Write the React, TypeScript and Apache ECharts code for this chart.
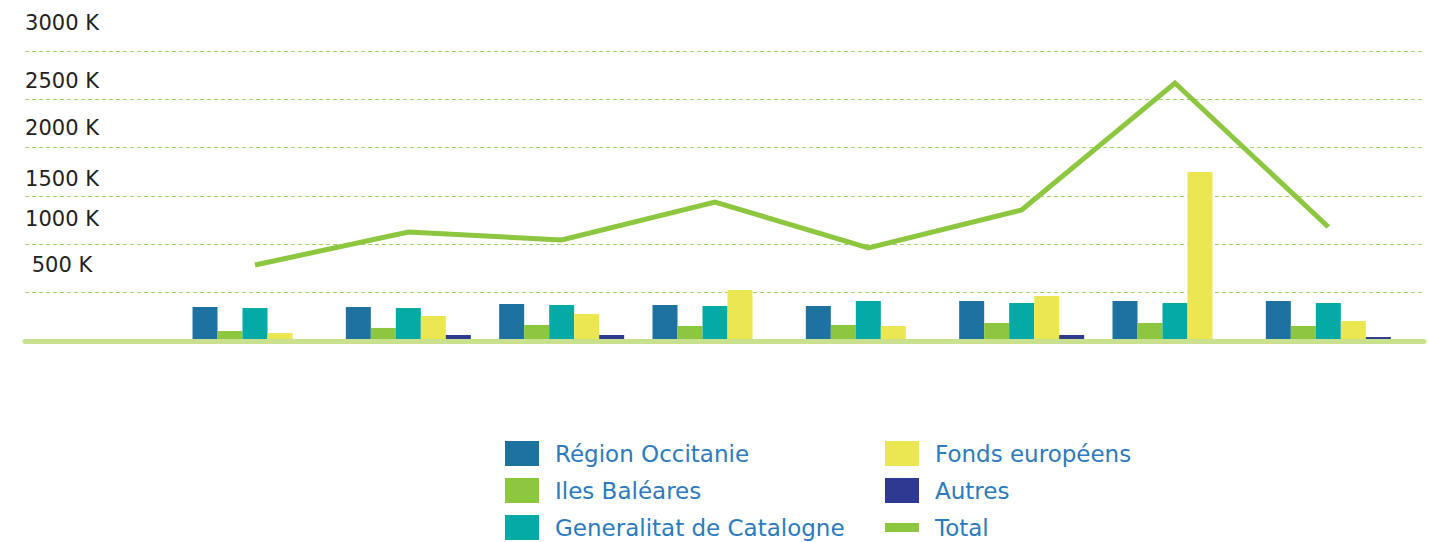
import React, { useEffect, useRef } from "react";
import * as echarts from "echarts";

// ---- data ----
const categories = ["", "P1", "P2", "P3", "P4", "P5", "P6", "P7", "P8"];
const regionOccitanie = [null, 352, 352, 383, 373, 362, 414, 414, 414];
const ilesBaleares = [null, 103, 135, 166, 155, 166, 186, 186, 155];
const generalitat = [null, 341, 341, 373, 362, 414, 393, 393, 393];
const fondsEuropeens = [null, 83, 259, 280, 528, 155, 466, 1748, 207];
const autres = [null, 0, 62, 62, 0, 0, 62, 0, 41];
const total = [null, 786, 1128, 1045, 1438, 962, 1356, 2669, 1179];
const yTicks = [0, 500, 1000, 1500, 2000, 2500, 3000];

const FONT = '"DejaVu Sans", "Noto Sans", sans-serif';
const COLORS = {
  occ: "#1d72a0",
  bal: "#8dc63f",
  cat: "#05aaa6",
  fonds: "#eae752",
  autres: "#2e3a92",
  total: "#8dc63f",
};
// vertical lift of each y label above its gridline (px)
const LABEL_LIFT: Record<number, number> = {
  500: 28,
  1000: 25,
  1500: 17,
  2000: 20,
  2500: 18,
  3000: 28,
};

export default function App() {
  const ref = useRef<HTMLDivElement>(null);
  useEffect(() => {
    if (!ref.current) return;
    const chart = echarts.init(ref.current, null, { renderer: "svg" });
    const rich: Record<string, any> = {};
    yTicks.forEach((t) => {
      rich["l" + t] = {
        fontFamily: FONT,
        fontSize: 21,
        color: "#222222",
        padding: [0, 0, (LABEL_LIFT[t] || 0) * 2, 0],
      };
    });
    const barBase = { type: "bar", xAxisIndex: 0, yAxisIndex: 0, barWidth: 25, barGap: "0%" };
    const legendCommon = {
      orient: "vertical",
      top: 441,
      height: 101,
      padding: 0,
      itemWidth: 34,
      itemHeight: 25,
      itemGap: 12,
      icon: "rect",
      textStyle: {
        fontFamily: FONT,
        fontSize: 23,
        color: "#2b7bbd",
        lineHeight: 17,
        padding: [0, 0, 8, 11],
      },
    };
    chart.setOption({
      animation: false,
      grid: [
        { left: 25, right: 24, top: 51, bottom: 201 },
        { left: 25, right: 5, top: 51, bottom: 201 },
      ],
      xAxis: [
        {
          type: "category",
          gridIndex: 0,
          data: categories,
          axisLine: { show: false },
          axisTick: { show: false },
          axisLabel: { show: false },
          splitLine: { show: false },
        },
        {
          type: "category",
          gridIndex: 1,
          data: [""],
          z: 10,
          axisLine: { show: true, lineStyle: { color: "#c9e08f", width: 5 } },
          axisTick: { show: false },
          axisLabel: { show: false },
          splitLine: { show: false },
        },
      ],
      yAxis: [
        {
          type: "value",
          gridIndex: 0,
          min: 0,
          max: 3000,
          interval: 500,
          axisLine: { show: false },
          axisTick: { show: false },
          axisLabel: { show: false },
          splitLine: { show: false },
        },
        {
          type: "value",
          gridIndex: 1,
          min: 0,
          max: 3000,
          interval: 500,
          axisLine: { show: false },
          axisTick: { show: false },
          splitLine: {
            show: true,
            lineStyle: { color: "#a2d465", width: 1, type: [4, 3] },
          },
          axisLabel: {
            inside: true,
            margin: 37,
            align: "center",
            verticalAlign: "middle",
            formatter: (v: number) => (v === 0 ? "" : `{l${v}|${v} K}`),
            rich,
          },
        },
      ],
      legend: [
        {
          ...legendCommon,
          left: 505,
          data: ["Région Occitanie", "Iles Baléares", "Generalitat de Catalogne"],
        },
        {
          ...legendCommon,
          left: 885,
          data: [
            "Fonds européens",
            "Autres",
            { name: "Total", icon: "path://M0,0L34,0L34,9L0,9Z" },
          ],
        },
      ],
      series: [
        { ...barBase, name: "Région Occitanie", data: regionOccitanie, itemStyle: { color: COLORS.occ } },
        { ...barBase, name: "Iles Baléares", data: ilesBaleares, itemStyle: { color: COLORS.bal } },
        { ...barBase, name: "Generalitat de Catalogne", data: generalitat, itemStyle: { color: COLORS.cat } },
        { ...barBase, name: "Fonds européens", data: fondsEuropeens, itemStyle: { color: COLORS.fonds } },
        { ...barBase, name: "Autres", data: autres, itemStyle: { color: COLORS.autres } },
        {
          type: "line",
          name: "Total",
          xAxisIndex: 0,
          yAxisIndex: 0,
          data: total,
          symbol: "none",
          z: 5,
          itemStyle: { color: COLORS.total },
          lineStyle: { color: COLORS.total, width: 5, join: "miter" },
        },
      ],
    });
    return () => chart.dispose();
  }, []);
  return (
    <div
      ref={ref}
      style={{ position: "absolute", left: 0, top: 0, width: 1429, height: 542, background: "#ffffff" }}
    />
  );
}
